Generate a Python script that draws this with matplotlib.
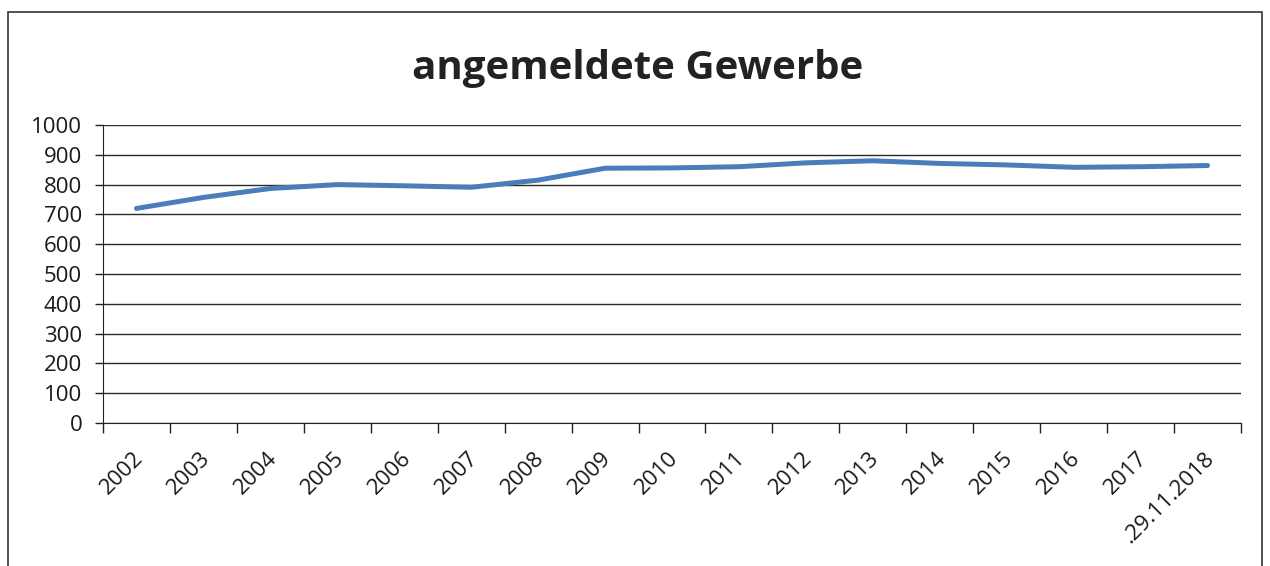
import matplotlib
matplotlib.use("Agg")
import matplotlib.pyplot as plt
from matplotlib.patches import Rectangle
import matplotlib.transforms as mtransforms
import numpy as np

categories = ["2002", "2003", "2004", "2005", "2006", "2007", "2008", "2009",
              "2010", "2011", "2012", "2013", "2014", "2015", "2016", "2017",
              ".29.11.2018"]
values = [720, 757, 787, 800, 796, 791, 815, 855, 856, 860, 873, 880, 871,
          866, 858, 860, 864]
y_ticks = list(range(0, 1001, 100))
title = "angemeldete Gewerbe"

plt.rcParams['font.family'] = ['Open Sans', 'DejaVu Sans']

W, H = 1270, 566
fig = plt.figure(figsize=(W / 100, H / 100), dpi=100)
fig.patch.set_facecolor("white")

# plot area in pixels: x 103..1241, y 125..423
left, right, top, bottom = 103, 1241, 125, 423
ax = fig.add_axes([left / W, 1 - bottom / H, (right - left) / W, (bottom - top) / H])

x = np.arange(len(categories))
ax.plot(x, values, color="#4A7EBB", linewidth=3.6, solid_capstyle="round",
        solid_joinstyle="round", zorder=3)

ax.set_xlim(-0.5, len(categories) - 0.5)
ax.set_ylim(0, 1000)
ax.set_yticks(y_ticks)
ax.set_yticklabels([str(v) for v in y_ticks], fontsize=16, color="#1a1a1a")
ax.grid(axis="y", color="#2a2a2a", linewidth=1.0)
ax.set_axisbelow(True)

ax.set_xticks(np.arange(-0.5, len(categories), 1.0))
ax.set_xticklabels([])
ax.set_xticks(x, minor=True)
ax.set_xticklabels(categories, minor=True, rotation=45, ha="right",
                   va="top", rotation_mode="anchor", fontsize=16,
                   color="#1a1a1a")
ax.tick_params(axis="x", which="major", length=7, width=1, direction="out",
               color="#222222")
ax.tick_params(axis="x", which="minor", length=0, pad=18)
ax.tick_params(axis="y", length=6, width=1, direction="out", color="#222222",
               pad=9)

for s in ["top", "right"]:
    ax.spines[s].set_visible(False)
ax.spines["left"].set_color("#222222")
ax.spines["bottom"].set_color("#222222")

offset = mtransforms.ScaledTranslation(-4 / 100, 0, fig.dpi_scale_trans)
for lbl in ax.get_xticklabels(minor=True):
    lbl.set_transform(lbl.get_transform() + offset)

fig.text(638 / W, 1 - 68 / H, title, ha="center", va="center",
         fontsize=29, fontweight="bold", color="#222222")

# outer chart border
fig.patches.append(Rectangle((8 / W, -0.01), (1262 - 8) / W, 1 - 12 / H + 0.01,
                             transform=fig.transFigure, fill=False,
                             edgecolor="#333333", linewidth=1.2))

fig.savefig("out.png", dpi=100)
